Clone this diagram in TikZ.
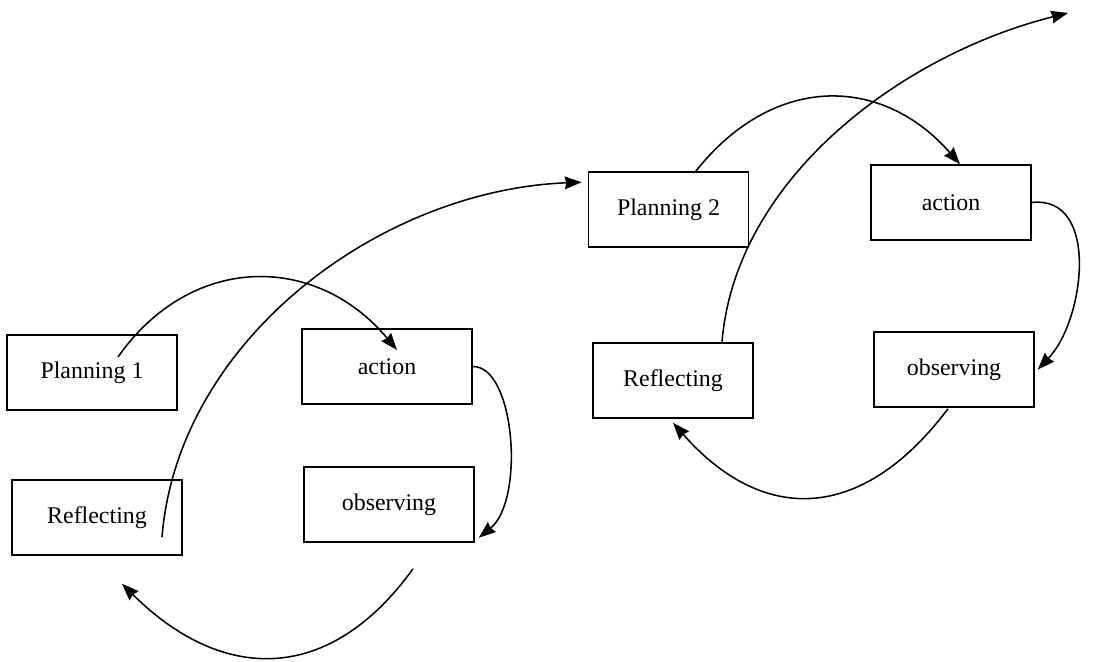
\documentclass[tikz,border=0pt]{standalone}
\usepackage{fontspec}
\setmainfont{Liberation Serif}
\usetikzlibrary{arrows.meta,calc}

\tikzset{
  stage/.style={draw, line width=1.1pt, minimum width=4.25cm, minimum height=1.875cm,
    inner sep=0pt, font=\fontsize{17}{20}\selectfont},
  stagetwo/.style={stage, minimum width=4cm},
  cycle/.style={line width=1.1pt, -{Stealth[length=12pt,width=9pt,inset=1pt]}}
}

\begin{document}
\begin{tikzpicture}[x=0.025cm,y=-0.025cm]
        \useasboundingbox (0,0) rectangle (1110,662);
        % first cycle
        \node [stage] (plan1) at (92,372.5) {Planning 1};
        \node [stage] (act1) at (387,366.5) {action};
        \node [stage] (refl1) at (97,517.5) {Reflecting};
        \node [stage] (obs1) at (389,504.5) {observing};
        % second cycle
        \node [stagetwo] (plan2) at (668.5,209.5) {Planning 2};
        \node [stagetwo] (act2) at (951,202.5) {action};
        \node [stagetwo] (refl2) at (673,380.5) {Reflecting};
        \node [stagetwo] (obs2) at (954,369.5) {observing};
        \coordinate (exit) at (1068,13);
        \draw [cycle] ($(plan1.center)+(26,-15.5)$) .. controls (191,253) and (316,253) .. ($(act1.center)+(10,-16.5)$);
        \draw [cycle] (act1.east) .. controls (515,366) and (525,500) .. ($(obs1.south east)+(4,-5)$);
        \draw [cycle] ($(obs1.south)+(24,26)$) .. controls (330,684) and (223,684) .. ($(refl1.south)+(25,28)$);
        \draw [cycle] ($(refl1.center)+(65,19.5)$) .. controls (178,340) and (380,190) .. ($(plan2.north west)+(-6,11)$);
        \draw [cycle] ($(plan2.north)+(26.5,1)$) .. controls (772,74) and (881,74) .. ($(act2.north)+(9,0)$);
        \draw [cycle] (act2.east) .. controls (1100,195) and (1085,320) .. ($(obs2.east)+(3,0)$);
        \draw [cycle] ($(obs2.south)+(-6,1)$) .. controls (861,524) and (762,524) .. ($(refl2.south)+(0,4)$);
        \draw [cycle] ($(refl2.north)+(49,0)$) .. controls (735,180) and (900,55) .. (exit);
    \end{tikzpicture}
\end{document}
